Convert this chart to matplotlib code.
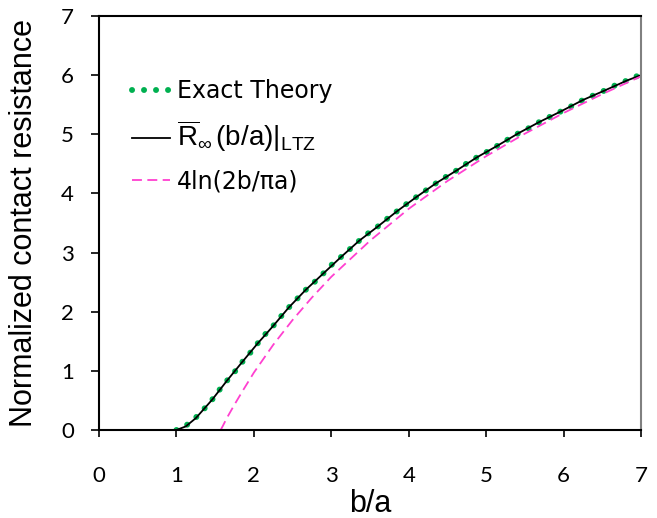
import numpy as np
import matplotlib
matplotlib.use('Agg')
import matplotlib.pyplot as plt

plt.rcParams['font.family'] = ['Liberation Sans', 'DejaVu Sans']
plt.rcParams['mathtext.fontset'] = 'custom'
plt.rcParams['mathtext.rm'] = 'Liberation Sans'
plt.rcParams['mathtext.it'] = 'Liberation Sans:italic'

# exact theory
exact_x = [1.0, 1.12, 1.25, 1.36, 1.46, 1.55, 1.65, 1.75, 1.85, 1.95, 2.04, 2.14,
           2.25, 2.35, 2.45, 2.56, 2.67, 2.79, 2.90, 3.01, 3.13, 3.25, 3.36, 3.48,
           3.60, 3.72, 3.85, 3.97, 4.10, 4.22, 4.35, 4.48, 4.62, 4.74, 4.88, 5.02,
           5.15, 5.29, 5.42, 5.56, 5.69, 5.83, 5.97, 6.11, 6.25, 6.39, 6.53, 6.67,
           6.82, 6.96, 7.0]
exact_y = [0.0, 0.07, 0.21, 0.36, 0.51, 0.67, 0.83, 0.98, 1.15, 1.30, 1.45, 1.61,
           1.76, 1.92, 2.07, 2.22, 2.37, 2.51, 2.65, 2.80, 2.93, 3.07, 3.20, 3.33,
           3.44, 3.57, 3.70, 3.82, 3.94, 4.05, 4.17, 4.28, 4.39, 4.50, 4.61, 4.71,
           4.81, 4.92, 5.02, 5.11, 5.21, 5.30, 5.39, 5.48, 5.58, 5.66, 5.74, 5.83,
           5.91, 5.99, 6.01]

# R_inf(b/a)|LTZ
ltz_x = [1.0, 1.12, 1.25, 1.46, 1.65, 1.85, 2.04, 2.25, 2.45, 2.67, 2.90, 3.13,
         3.36, 3.60, 3.85, 4.10, 4.35, 4.62, 4.88, 5.15, 5.42, 5.69, 5.97, 6.25,
         6.53, 6.82, 7.0]
ltz_y = [0.0, 0.06, 0.20, 0.51, 0.83, 1.15, 1.45, 1.76, 2.07, 2.37, 2.65, 2.93,
         3.20, 3.44, 3.70, 3.94, 4.17, 4.39, 4.61, 4.81, 5.02, 5.21, 5.39, 5.58,
         5.74, 5.91, 6.0]

# 4ln(2b/pi a)
appr_x = [1.571, 1.6, 1.65, 1.75, 1.85, 2.0, 2.25, 2.5, 2.75, 3.0, 3.5, 4.0,
          4.5, 5.0, 5.5, 6.0, 6.5, 7.0]
appr_y = [0.0, 0.07, 0.20, 0.43, 0.65, 0.97, 1.44, 1.86, 2.24, 2.59, 3.20, 3.74,
          4.21, 4.63, 5.01, 5.36, 5.68, 5.98]

fig = plt.figure(figsize=(6.57, 5.18), dpi=100)
ax = fig.add_axes([99/657, 1-430/518, 542/657, 414/518])

ax.plot(exact_x, exact_y, color='#00B050', lw=4.3, linestyle=(0, (0.01, 2.0)),
        dash_capstyle='round', label='Exact Theory')
ax.plot(ltz_x, ltz_y, color='black', lw=1.3,
        label=r'$\overline{\mathrm{R}}_{\infty}\,\left.(\mathrm{b/a})\right|_{\mathrm{LTZ}}$')
ax.plot(appr_x, appr_y, color='#FF40D0', lw=1.3, linestyle=(0, (5.5, 3)),
        label='4ln(2b/\u03c0a)')

ax.set_xlim(0, 7)
ax.set_ylim(0, 7)
ax.set_xticks(range(8))
ax.set_yticks(range(8))
for s in ['left', 'bottom', 'top']:
    ax.spines[s].set_linewidth(1.5)
ax.spines['right'].set_color('#808080')
ax.spines['right'].set_linewidth(1.5)
ax.tick_params(axis='x', direction='out', length=5, width=1.2, pad=21, labelsize=16)
ax.tick_params(axis='y', direction='out', length=6, width=1.2, pad=12, labelsize=16)
for lab in ax.get_xticklabels() + ax.get_yticklabels():
    lab.set_family(['Lato', 'DejaVu Sans'])

ax.set_xlabel('b/a', fontsize=22)
ax.xaxis.set_label_coords(0.5, -0.143)
ax.set_ylabel('Normalized contact resistance', fontsize=22)
ax.yaxis.set_label_coords(-0.11, 0.5)

leg = ax.legend(loc='upper left', bbox_to_anchor=(0.061, 0.848), frameon=False,
                handlelength=1.6, handletextpad=0.3, labelspacing=0.65,
                borderpad=0, borderaxespad=0, prop={'family': ['DejaVu Sans'], 'size': 17})
leg.get_texts()[1].set_fontsize(20)

fig.savefig('out.png', dpi=100)
